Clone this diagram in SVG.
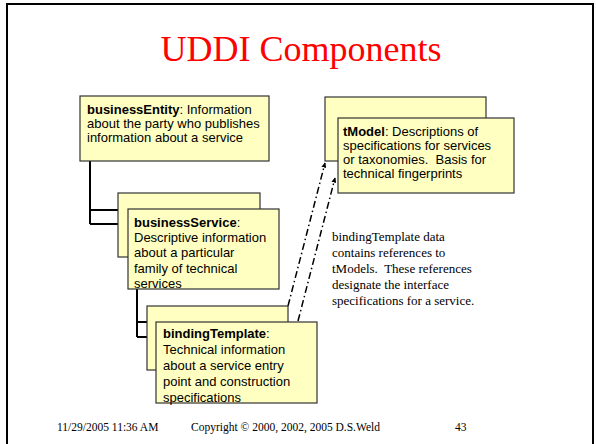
<svg xmlns="http://www.w3.org/2000/svg" width="596" height="444" viewBox="0 0 596 444">
  <defs>
    <style>
      .box { fill: #FFFFC2; stroke: #333333; stroke-width: 1.2; }
      .lbl { font-family: "Liberation Sans", Arial, sans-serif; font-size: 13px; fill: #000; }
      .lbl .b { font-weight: bold; }
      .tree { fill: none; stroke: #000; stroke-width: 2; }
      .ref { fill: none; stroke: #000; stroke-width: 1.5; stroke-dasharray: 7 3 1.5 3; }
      .note { font-family: "Liberation Serif", "Times New Roman", serif; font-size: 13px; fill: #000; }
      .foot { font-family: "Liberation Serif", "Times New Roman", serif; font-size: 11.5px; fill: #000; }
    </style>
    <marker id="arrow" viewBox="0 0 10 10" refX="9" refY="5" markerWidth="5" markerHeight="5" orient="auto" markerUnits="userSpaceOnUse">
      <path d="M0,0 L10,5 L0,10 Z" fill="#000"/>
    </marker>
  </defs>

  <rect width="596" height="444" fill="#fff"/>
  <!-- slide frame -->
  <rect x="7" y="4" width="586" height="460" fill="none" stroke="#000" stroke-width="2"/>

  <text x="301" y="61" text-anchor="middle" font-family="Liberation Serif, Times New Roman, serif" font-size="36" fill="#FF0000">UDDI Components</text>

  <!-- connectors -->
  <g id="connectors">
    <path class="tree" d="M90,161 V224 M90,210 H118 M90,224 H128"/>
    <path class="tree" d="M137,289 V337 M137,322 H147 M137,337 H156"/>
    <line class="ref" x1="288" y1="306" x2="325" y2="163" marker-end="url(#arrow)"/>
    <line class="ref" x1="298" y1="321" x2="335" y2="178" marker-end="url(#arrow)"/>
  </g>

  <g id="businessEntity">
    <rect class="box" x="80" y="96" width="189" height="65"/>
    <text class="lbl" x="87" y="114"><tspan class="b">businessEntity</tspan>: Information</text>
    <text class="lbl" x="87" y="128">about the party who publishes</text>
    <text class="lbl" x="87" y="142">information about a service</text>
  </g>

  <g id="businessService">
    <rect class="box" x="118" y="193" width="142" height="64"/>
    <rect class="box" x="128" y="209" width="151" height="80"/>
    <text class="lbl" x="134" y="227"><tspan class="b">businessService</tspan>:</text>
    <text class="lbl" x="134" y="242">Descriptive information</text>
    <text class="lbl" x="134" y="257">about a particular</text>
    <text class="lbl" x="134" y="273">family of technical</text>
    <text class="lbl" x="134" y="288">services</text>
  </g>

  <g id="bindingTemplate">
    <rect class="box" x="147" y="306" width="141" height="64"/>
    <rect class="box" x="156" y="322" width="161" height="81"/>
    <text class="lbl" x="163" y="338"><tspan class="b">bindingTemplate</tspan>:</text>
    <text class="lbl" x="163" y="354">Technical information</text>
    <text class="lbl" x="163" y="370">about a service entry</text>
    <text class="lbl" x="163" y="386">point and construction</text>
    <text class="lbl" x="163" y="402">specifications</text>
  </g>

  <g id="tModel">
    <rect class="box" x="325" y="97" width="161" height="64"/>
    <rect class="box" x="338" y="118" width="176" height="75"/>
    <text class="lbl" x="343" y="136"><tspan class="b">tModel</tspan>: Descriptions of</text>
    <text class="lbl" x="343" y="150">specifications for services</text>
    <text class="lbl" x="343" y="164" xml:space="preserve">or taxonomies.  Basis for</text>
    <text class="lbl" x="343" y="178">technical fingerprints</text>
  </g>

  <g id="note">
    <text class="note" x="332" y="241">bindingTemplate data</text>
    <text class="note" x="332" y="257">contains references to</text>
    <text class="note" x="332" y="273" xml:space="preserve">tModels.  These references</text>
    <text class="note" x="332" y="289">designate the interface</text>
    <text class="note" x="332" y="305">specifications for a service.</text>
  </g>

  <g id="footer">
    <text class="foot" x="57" y="431">11/29/2005 11:36 AM</text>
    <text class="foot" x="191" y="431">Copyright © 2000, 2002, 2005 D.S.Weld</text>
    <text class="foot" x="455" y="431">43</text>
  </g>
</svg>
